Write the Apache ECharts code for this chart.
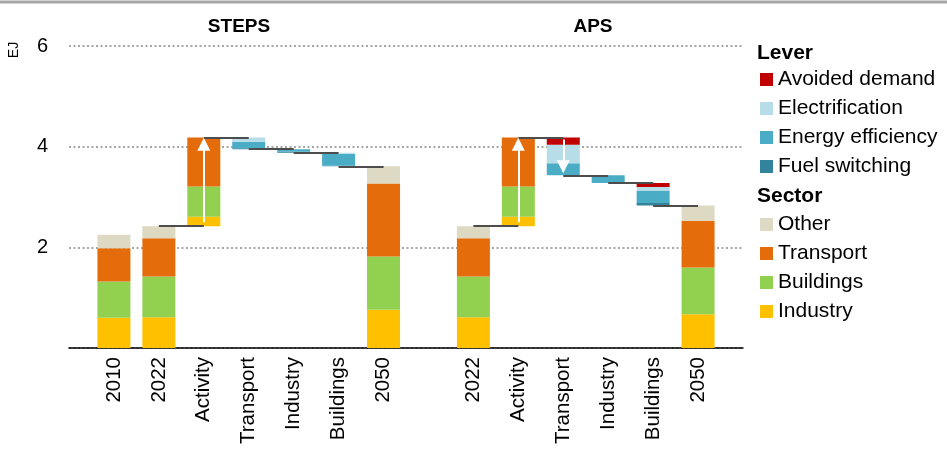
<!DOCTYPE html>
<html>
<head>
<meta charset="utf-8">
<script src="https://cdn.jsdelivr.net/npm/echarts@6/dist/echarts.min.js"></script>
<style>
  html, body { margin: 0; padding: 0; background: #fff; }
  #chart { width: 947px; height: 450px; }
</style>
</head>
<body>
<div id="chart"></div>
<script>
// Final energy demand waterfall, STEPS vs APS (EJ)
const categories = ['', '2010', '2022', 'Activity', 'Transport', 'Industry', 'Buildings', '2050',
                    '', '2022', 'Activity', 'Transport', 'Industry', 'Buildings', '2050', ''];
const barType = ['', 'total', 'total', 'up', 'down', 'down', 'down', 'total',
                 '', 'total', 'up', 'down', 'down', 'down', 'total', ''];

// Sector components
const industry  = [null, 0.60, 0.61, 0.19, null, null, null, 0.76, null, 0.61, 0.19, null, null, null, 0.67, null];
const buildings = [null, 0.72, 0.81, 0.60, null, null, null, 1.06, null, 0.81, 0.60, null, null, null, 0.93, null];
const transport = [null, 0.66, 0.76, 0.97, null, null, null, 1.45, null, 0.76, 0.97, null, null, null, 0.93, null];
const other     = [null, 0.27, 0.24, null, null, null, null, 0.34, null, 0.24, null, null, null, null, 0.30, null];

// Lever reductions
const avoidedDemand    = [null, null, null, null, 0,    0,    0,    null, null, null, null, 0.14, 0,    0.08, null, null];
const electrification  = [null, null, null, null, 0.08, 0,    0.02, null, null, null, null, 0.37, 0,    0.08, null, null];
const energyEfficiency = [null, null, null, null, 0.13, 0.05, 0.24, null, null, null, null, 0.24, 0.15, 0.24, null, null];
const fuelSwitching    = [null, null, null, null, 0.02, 0.02, 0.01, null, null, null, null, 0,    0,    0.05, null, null];

const yTicks = [0, 2, 4, 6];
const panelTitles = ['STEPS', 'APS'];

// White direction arrows: [category index, start value, end value]
const arrows = [[3, 2.50, 4.05], [10, 2.50, 4.05], [11, 4.14, 3.60]];

const colors = {
  industry: '#FFC000', buildings: '#92D050', transport: '#E46C0A', other: '#DDD9C3',
  avoided: '#C00000', electrification: '#B7DEE8', efficiency: '#4BACC6', fuel: '#31849B'
};

const sum = (arrs, i) => arrs.reduce((s, a) => s + (a[i] || 0), 0);
const sectorArrs = [industry, buildings, transport, other];
const leverArrs = [avoidedDemand, electrification, energyEfficiency, fuelSwitching];

// Invisible base for the floating bars and running level after each step
const base = [];
const level = [];
let running = 0;
categories.forEach((c, i) => {
  const t = barType[i];
  if (t === 'total') { base.push(0); running = sum(sectorArrs, i); }
  else if (t === 'up') { base.push(running); running += sum(sectorArrs, i); }
  else if (t === 'down') { running -= sum(leverArrs, i); base.push(running); }
  else { base.push(null); }
  level.push(t ? +running.toFixed(4) : null);
});

// Horizontal connectors between consecutive steps
const connectors = [];
for (let i = 0; i < categories.length - 1; i++) {
  const a = barType[i], b = barType[i + 1];
  if (!a || !b) continue;
  if (a === 'total' && b === 'total') continue;
  connectors.push([{ coord: [i, level[i]] }, { coord: [i + 1, level[i]] }]);
}

const arrowLines = arrows.map(([i, y0, y1]) => [{ coord: [i, y0] }, { coord: [i, y1] }]);

const FONT = 'Liberation Sans, Arial, sans-serif';

function barSeries(name, data, color) {
  return {
    name, type: 'bar', stack: 'w', data, barWidth: 33,
    itemStyle: { color }, emphasis: { disabled: true }, silent: true
  };
}

const legendCommon = {
  orient: 'vertical', left: 760, padding: 0, itemGap: 8,
  itemWidth: 13, itemHeight: 13, icon: 'rect', selectedMode: false,
  textStyle: { fontSize: 21, color: '#000', fontFamily: FONT }
};

const chart = echarts.init(document.getElementById('chart'), null, { renderer: 'canvas' });
chart.setOption({
  animation: false,
  backgroundColor: '#fff',
  grid: { left: 69, right: 204, top: 46, bottom: 102, containLabel: false },
  xAxis: {
    type: 'category', data: categories, boundaryGap: false,
    axisLine: { lineStyle: { color: '#000', width: 1.5 } },
    axisTick: { show: false },
    axisLabel: { interval: 0, rotate: 90, margin: 9, color: '#000', fontSize: 20.5, fontFamily: FONT }
  },
  yAxis: {
    type: 'value', min: yTicks[0], max: yTicks[yTicks.length - 1], interval: 2,
    axisLine: { show: false }, axisTick: { show: false },
    axisLabel: { margin: 21, color: '#000', fontSize: 20, fontFamily: FONT,
                 formatter: v => (v === 0 ? '' : String(v)) },
    splitLine: { lineStyle: { color: '#a6a6a6', width: 2, type: [2, 2.5] } }
  },
  legend: [
    Object.assign({ top: 69, data: ['Avoided demand', 'Electrification', 'Energy efficiency', 'Fuel switching'] }, legendCommon),
    Object.assign({ top: 214, data: ['Other', 'Transport', 'Buildings', 'Industry'] }, legendCommon)
  ],
  graphic: [
    { type: 'line', shape: { x1: 0, y1: 2, x2: 947, y2: 2 }, style: { stroke: '#a6a6a6', lineWidth: 3 }, silent: true },
    { type: 'text', x: 239, y: 27, style: { text: panelTitles[0], fontSize: 19, fontWeight: 'bold', fontFamily: FONT, fill: '#000', align: 'center', verticalAlign: 'middle' } },
    { type: 'text', x: 593, y: 27, style: { text: panelTitles[1], fontSize: 19, fontWeight: 'bold', fontFamily: FONT, fill: '#000', align: 'center', verticalAlign: 'middle' } },
    { type: 'text', x: 14, y: 50, rotation: Math.PI / 2, style: { text: 'EJ', fontSize: 14, fontFamily: FONT, fill: '#000', align: 'center', verticalAlign: 'middle' } },
    { type: 'text', x: 757, y: 53, style: { text: 'Lever', fontSize: 21, fontWeight: 'bold', fontFamily: FONT, fill: '#000', verticalAlign: 'middle' } },
    { type: 'text', x: 757, y: 196, style: { text: 'Sector', fontSize: 21, fontWeight: 'bold', fontFamily: FONT, fill: '#000', verticalAlign: 'middle' } }
  ],
  series: [
    { name: 'base', type: 'bar', stack: 'w', data: base, barWidth: 33,
      itemStyle: { color: 'rgba(0,0,0,0)' }, emphasis: { disabled: true }, silent: true },
    barSeries('Industry', industry, colors.industry),
    barSeries('Buildings', buildings, colors.buildings),
    barSeries('Transport', transport, colors.transport),
    barSeries('Other', other, colors.other),
    barSeries('Fuel switching', fuelSwitching, colors.fuel),
    barSeries('Energy efficiency', energyEfficiency, colors.efficiency),
    barSeries('Electrification', electrification, colors.electrification),
    barSeries('Avoided demand', avoidedDemand, colors.avoided),
    {
      name: 'connectors', type: 'line', data: categories.map(() => null), showSymbol: false, silent: true,
      markLine: {
        silent: true, animation: false, symbol: ['none', 'none'], label: { show: false },
        emphasis: { disabled: true },
        lineStyle: { color: '#4d4d4d', width: 2, type: 'solid' },
        data: connectors
      }
    },
    {
      name: 'arrows', type: 'line', data: categories.map(() => null), showSymbol: false, silent: true, z: 5,
      markLine: {
        silent: true, animation: false, symbol: ['none', 'triangle'], symbolSize: [13, 13],
        label: { show: false }, emphasis: { disabled: true },
        lineStyle: { color: '#fff', width: 2, type: 'solid', opacity: 1 },
        itemStyle: { color: '#fff' },
        data: arrowLines
      }
    }
  ]
});
</script>
</body>
</html>
